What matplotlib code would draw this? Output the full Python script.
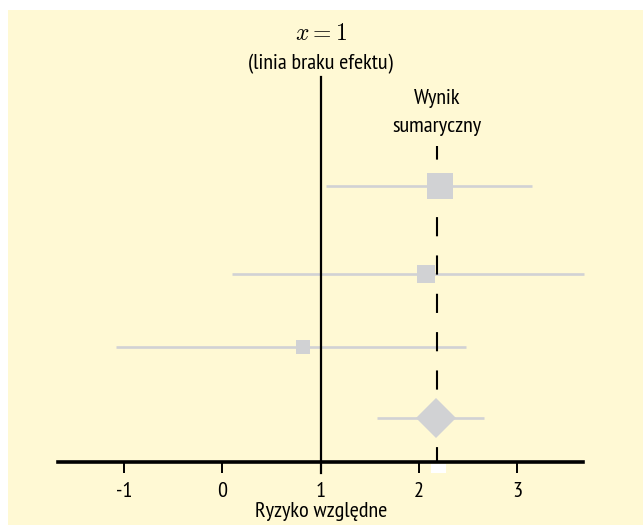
import matplotlib
matplotlib.use("Agg")
import matplotlib.pyplot as plt
from matplotlib.patches import Rectangle

# study results (relative risk) and confidence intervals
estimates = [2.21, 2.07, 0.82]
ci_low = [1.05, 0.10, -1.08]
ci_high = [3.15, 3.68, 2.48]
summary_est = 2.18
summary_low = 1.57
summary_high = 2.66
tick_values = [-1, 0, 1, 2, 3]
tick_labels = ["-1", "0", "1", "2", "3"]

plt.rcParams["font.family"] = ["PT Sans Narrow", "Roboto Condensed", "DejaVu Sans"]
plt.rcParams["mathtext.fontset"] = "cm"
plt.rcParams["lines.scale_dashes"] = False

bg = "#FFF9D4"
grey = "#D1D2D4"

fig = plt.figure(figsize=(6.43, 5.25), dpi=100)
fig.patches.append(Rectangle((8 / 643, 0), 1, 515 / 525, transform=fig.transFigure,
                             facecolor=bg, edgecolor="none", zorder=-10))

ax = fig.add_axes([58.5 / 643, 63 / 525, 524.5 / 643, 385 / 525])
ax.set_facecolor("none")
ax.set_xlim(-1.667, 3.668)
ax.set_ylim(0, 38.5)

row_y = [27.6, 18.8, 11.5]
summary_y = 4.45
sq_sizes = [19.2, 13.0, 9.6]

# whiskers
for y, lo, hi in zip(row_y, ci_low, ci_high):
    ax.plot([lo, hi], [y, y], color=grey, lw=1.9, solid_capstyle="butt", zorder=1, clip_on=False)
ax.plot([summary_low, summary_high], [summary_y, summary_y], color=grey, lw=1.9,
        solid_capstyle="butt", zorder=1)

# summary dashed line
ax.plot([summary_est, summary_est], [31.6, 0], color="black", lw=1.5,
        linestyle=(4.0, (13.8, 13.8)), zorder=2)

# squares and diamond
for y, est, s in zip(row_y, estimates, sq_sizes):
    ax.plot(est, y, marker="s", markersize=s, color=grey, markeredgewidth=0, zorder=3)
ax.plot(summary_est - 0.01, summary_y, marker="D", markersize=20.4, color=grey,
        markeredgewidth=0, zorder=3)

# line of no effect
ax.plot([1, 1], [38.5, -1.1], color="black", lw=1.6, zorder=4, clip_on=False)

ax.add_patch(Rectangle((2.122, -1.1), 0.153, 0.9, facecolor="white", edgecolor="none",
                       clip_on=False, zorder=5))

for s in ["top", "right", "left"]:
    ax.spines[s].set_visible(False)
ax.spines["bottom"].set_linewidth(2.6)
ax.set_yticks([])
ax.set_xticks(tick_values)
ax.set_xticklabels(tick_labels)
ax.tick_params(axis="x", direction="out", length=7.7, width=1.4, pad=6.5, labelsize=16)
ax.set_xlabel("Ryzyko względne", fontsize=16, labelpad=1)

ax.text(1, 42.7, "$x = 1$", ha="center", va="center", fontsize=17, clip_on=False)
ax.text(1, 39.8, "(linia braku efektu)", ha="center", va="center", fontsize=16, clip_on=False)
ax.text(summary_est, 36.4, "Wynik", ha="center", va="center", fontsize=16)
ax.text(summary_est, 33.6, "sumaryczny", ha="center", va="center", fontsize=16)

fig.savefig("out.png", dpi=100)
